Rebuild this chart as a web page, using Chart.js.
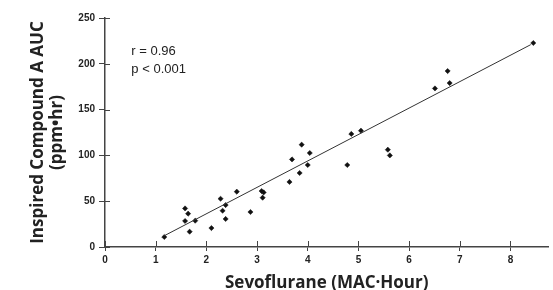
<!DOCTYPE html>
<html>
<head>
<meta charset="utf-8">
<script src="https://cdn.jsdelivr.net/npm/chart.js@4/dist/chart.umd.min.js"></script>
<style>
  html, body { margin: 0; padding: 0; background: #fff; }
  #wrap { width: 553px; height: 290px; position: relative; }
</style>
</head>
<body>
<div id="wrap"><canvas id="c"></canvas></div>
<script>
// Data
const sevoMACHour = [1.17, 1.58, 1.64, 1.58, 1.67, 1.78, 2.10, 2.28, 2.38, 2.32, 2.38, 2.60, 2.87, 3.09, 3.13, 3.11,
                     3.64, 3.69, 3.84, 3.88, 4.00, 4.04, 4.78, 4.86, 5.05, 5.58, 5.62,
                     6.51, 6.76, 6.80, 8.45];
const compoundAAUC = [10.9, 42.1, 36.4, 28.4, 16.7, 28.7, 20.7, 52.7, 45.8, 39.6, 30.6, 60.4, 38.2, 61.1, 59.6, 53.8,
                      71.0, 95.6, 80.8, 111.7, 89.5, 102.6, 89.5, 123.4, 127.0, 106.2, 100.0,
                      173.1, 192.1, 179.0, 222.7];
const fitLineX = [1.17, 8.40];
const fitLineY = [12.3, 220.9];
const statsText = ['r = 0.96', 'p < 0.001'];
const xTitle = 'Sevoflurane (MAC\u00B7Hour)';
const yTitle = ['Inspired Compound A AUC', '(ppm\u2022hr)'];

const points = sevoMACHour.map((x, i) => ({ x: x, y: compoundAAUC[i] }));
const fit = fitLineX.map((x, i) => ({ x: x, y: fitLineY[i] }));

const axisColor = '#444';

// draws the inner half of tick marks (ticks cross the axis) and the r/p annotation
const extras = {
  id: 'extras',
  afterDraw(chart) {
    const ctx = chart.ctx;
    const xs = chart.scales.x, ys = chart.scales.y;
    ctx.save();
    ctx.strokeStyle = axisColor;
    ctx.lineWidth = 1;
    xs.ticks.forEach(t => {
      const px = Math.round(xs.getPixelForValue(t.value)) + 0.5;
      ctx.beginPath();
      ctx.moveTo(px, xs.top);
      ctx.lineTo(px, xs.top - 6);
      ctx.stroke();
    });
    ys.ticks.forEach(t => {
      const py = Math.round(ys.getPixelForValue(t.value)) + 0.5;
      ctx.beginPath();
      ctx.moveTo(ys.right, py);
      ctx.lineTo(ys.right + 5, py);
      ctx.stroke();
    });
    ctx.fillStyle = '#222';
    ctx.font = '13px "Liberation Sans", Arial, sans-serif';
    ctx.textBaseline = 'middle';
    ctx.textAlign = 'left';
    const ax = xs.getPixelForValue(0.52);
    statsText.forEach((s, i) => {
      ctx.fillText(s, ax, ys.getPixelForValue(213) + i * 17.5);
    });
    ctx.restore();
  }
};

new Chart(document.getElementById('c'), {
  type: 'scatter',
  data: {
    datasets: [
      {
        type: 'line',
        data: fit,
        borderColor: '#333',
        borderWidth: 1,
        pointRadius: 0,
        fill: false
      },
      {
        type: 'scatter',
        data: points,
        pointStyle: 'rectRot',
        pointRadius: 2.6,
        backgroundColor: '#111',
        borderColor: '#111',
        borderWidth: 0.5
      }
    ]
  },
  options: {
    responsive: true,
    maintainAspectRatio: false,
    animation: false,
    layout: { padding: { top: 18, right: 0, left: 0, bottom: 0 } },
    plugins: { legend: { display: false }, tooltip: { enabled: false } },
    scales: {
      x: {
        type: 'linear',
        min: 0,
        max: 8.75,
        afterBuildTicks: s => { s.ticks = s.ticks.filter(t => Number.isInteger(t.value)); },
        afterFit: s => { s.height = 43; },
        border: { display: true, color: axisColor, width: 1.5 },
        grid: { display: true, drawOnChartArea: false, drawTicks: true, tickLength: 4, color: axisColor, lineWidth: 1 },
        ticks: {
          stepSize: 1,
          padding: 3,
          color: '#222',
          font: { family: '"Liberation Sans", Arial, sans-serif', size: 10, weight: 'bold' },
          maxRotation: 0,
          autoSkip: false
        },
        title: {
          display: true,
          text: xTitle,
          color: '#222',
          font: { family: '"Open Sans", sans-serif', size: 17, weight: 'bold', lineHeight: 1 },
          padding: { top: 0, bottom: -2 }
        }
      },
      y: {
        type: 'linear',
        min: 0,
        max: 250,
        afterFit: s => { s.width = 105; },
        border: { display: true, color: axisColor, width: 1.5 },
        grid: { display: true, drawOnChartArea: false, drawTicks: true, tickLength: 6, color: axisColor, lineWidth: 1 },
        ticks: {
          stepSize: 50,
          padding: 4,
          color: '#222',
          font: { family: '"Liberation Sans", Arial, sans-serif', size: 10, weight: 'bold' }
        },
        title: {
          display: true,
          text: yTitle,
          color: '#222',
          font: { family: '"Open Sans", sans-serif', size: 17, weight: 'bold', lineHeight: 1.15 },
          padding: { top: 28, bottom: 0 }
        }
      }
    }
  },
  plugins: [extras]
});
</script>
</body>
</html>
